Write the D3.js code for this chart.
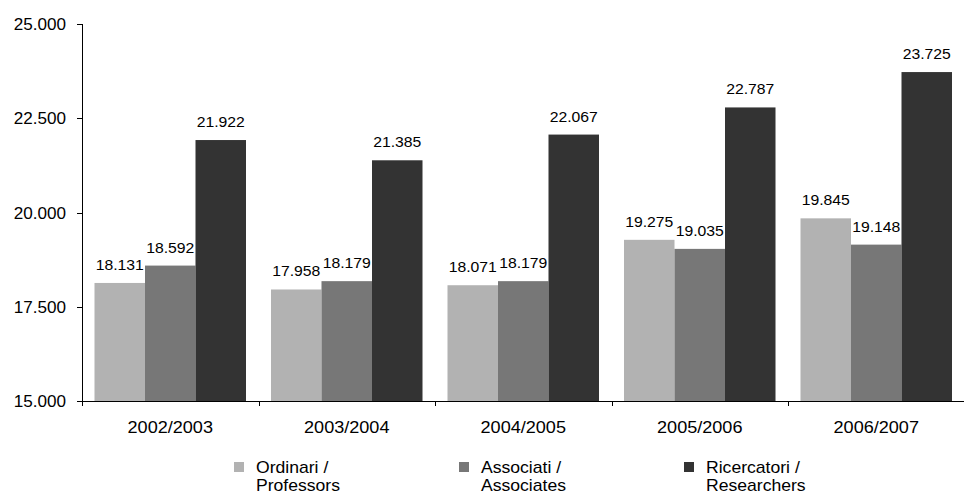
<!DOCTYPE html>
<html><head><meta charset="utf-8">
<script src="https://cdn.jsdelivr.net/npm/d3@7"></script>
<style>
html,body{margin:0;padding:0;background:#fff;}
svg{display:block;font-family:"Liberation Sans",Arial,sans-serif;}
</style></head>
<body>
<svg id="chart" width="964" height="496"></svg>
<script>
const categories = ["2002/2003","2003/2004","2004/2005","2005/2006","2006/2007"];
const seriesNames = [["Ordinari /","Professors"],["Associati /","Associates"],["Ricercatori /","Researchers"]];
const ordinari = [18131,17958,18071,19275,19845];
const associati = [18592,18179,18179,19035,19148];
const ricercatori = [21922,21385,22067,22787,23725];
const yTicks = [15000,17500,20000,22500,25000];
const colors = ["#b2b2b2","#777777","#333333"];
const series = [ordinari, associati, ricercatori];

const svg = d3.select("#chart");
const fmt = d3.formatLocale({decimal:",",thousands:".",grouping:[3],currency:["€",""]}).format(",.0f");

const y = d3.scaleLinear().domain([15000,25000]).range([401,24]);
const x = d3.scaleBand().domain(categories).range([82,964.5]).padding(0);
const xs = d3.scaleBand().domain([0,1,2]).range([0,x.bandwidth()]).paddingInner(0).paddingOuter(12.5/50.5);

function txt(g, tx, ty, s, size, sx, anchor){
  return g.append("text").attr("transform",`translate(${tx},${ty}) scale(${sx},1)`)
    .attr("font-size",size).attr("text-anchor",anchor).attr("fill","#000").text(s);
}

// bars
series.forEach((vals,si)=>{
  svg.append("g").selectAll("rect").data(vals).join("rect")
    .attr("x",(d,i)=>x(categories[i])+xs(si))
    .attr("width",xs.bandwidth())
    .attr("y",d=>y(d))
    .attr("height",d=>y(15000)-y(d))
    .attr("fill",colors[si]);
});

// value labels
const lg = svg.append("g");
series.forEach((vals,si)=>{
  vals.forEach((v,i)=>{
    txt(lg, x(categories[i])+xs(si)+xs.bandwidth()/2, y(v)-13, fmt(v), 15, 1.05, "middle");
  });
});

// y axis
const ax = svg.append("g").attr("stroke","#000").attr("stroke-width",1);
ax.append("line").attr("x1",82.5).attr("x2",82.5).attr("y1",y(25000)).attr("y2",406);
yTicks.forEach(t=>{
  ax.append("line").attr("x1",77).attr("x2",82.5).attr("y1",Math.round(y(t))+0.5).attr("y2",Math.round(y(t))+0.5);
});
const yl = svg.append("g");
yTicks.forEach(t=>{ txt(yl, 66, y(t)+6, fmt(t), 16, 1.07, "end"); });

// x axis
ax.append("line").attr("x1",82).attr("x2",964).attr("y1",401.5).attr("y2",401.5);
categories.forEach((c,i)=>{
  if(i>0) ax.append("line").attr("x1",Math.round(x(c))+0.5).attr("x2",Math.round(x(c))+0.5).attr("y1",401.5).attr("y2",406);
});
const xl = svg.append("g");
categories.forEach(c=>{ txt(xl, x(c)+x.bandwidth()/2, 433, c, 16, 1.13, "middle"); });

// legend
const legX = [256,481,706];
const leg = svg.append("g");
seriesNames.forEach((nm,si)=>{
  leg.append("rect").attr("x",legX[si]-22).attr("y",462).attr("width",10).attr("height",10).attr("fill",colors[si]);
  txt(leg, legX[si], 473, nm[0], 16, 1.1, "start");
  txt(leg, legX[si], 491, nm[1], 16, 1.1, "start");
});
</script>
</body></html>
